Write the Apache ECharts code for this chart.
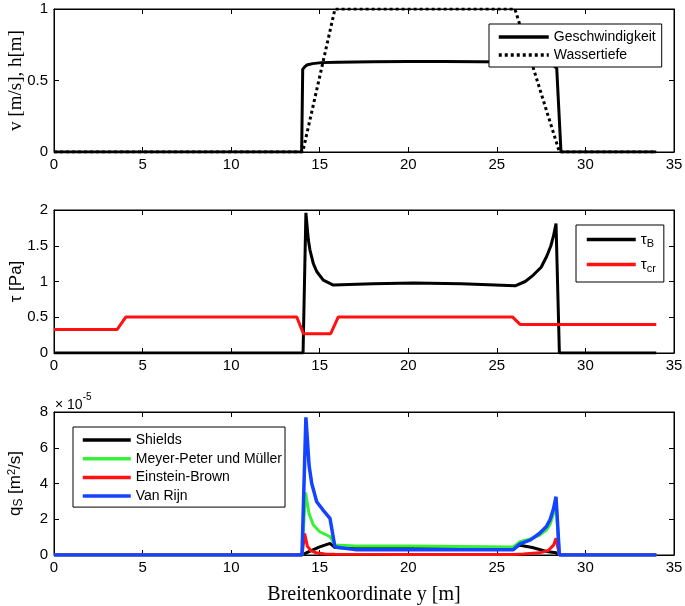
<!DOCTYPE html>
<html><head><meta charset="utf-8">
<script src="https://cdn.jsdelivr.net/npm/echarts@6/dist/echarts.min.js"></script>
<style>html,body{margin:0;padding:0;background:#fff}#c{width:685px;height:606px}</style>
</head><body><div id="c"></div><script>
// ---- data ----
const xTicks = [0, 5, 10, 15, 20, 25, 30, 35];
// Panel 1: velocity and water depth
const vX = [0, 13.98, 14.04, 14.15, 14.27, 14.6, 15.1, 16, 18, 20, 22, 24, 26, 27, 27.8, 28.2, 28.38, 28.62, 34];
const vY = [0, 0, 0.578, 0.595, 0.608, 0.618, 0.625, 0.628, 0.631, 0.632, 0.632, 0.631, 0.629, 0.627, 0.62, 0.605, 0.585, 0, 0];
const hX = [0, 14.04, 15.86, 26.02, 28.53, 34];
const hY = [0, 0, 1, 1, 0, 0];
// Panel 2: shear stress
const tbX = [0, 14.06, 14.22, 14.36, 14.45, 14.64, 14.83, 15.2, 15.77, 18, 20.3, 23, 26.03, 26.6, 27.06, 27.5, 27.81, 28.05, 28.19, 28.34, 28.53, 34];
const tbY = [0, 0, 1.96, 1.58, 1.44, 1.25, 1.14, 1.02, 0.95, 0.97, 0.98, 0.97, 0.94, 1.0, 1.09, 1.2, 1.35, 1.5, 1.63, 1.81, 0, 0];
const tcX = [0, 3.57, 4.06, 13.7, 14.08, 15.62, 16.05, 25.88, 26.31, 34];
const tcY = [0.33, 0.33, 0.505, 0.505, 0.27, 0.27, 0.505, 0.505, 0.40, 0.40];
// Panel 3: sediment transport (units of 1e-5 m^2/s)
const shX = [0, 14.0, 14.3, 15.0, 15.58, 15.86, 17, 20, 23, 25.93, 26.3, 27.0, 27.8, 28.34, 28.53, 34];
const shY = [0, 0, 0.15, 0.45, 0.65, 0.42, 0.38, 0.37, 0.37, 0.38, 0.55, 0.42, 0.2, 0.12, 0, 0];
const mpX = [0, 14.0, 14.2, 14.4, 14.64, 15.0, 15.58, 15.86, 17, 20, 23, 25.93, 26.3, 26.9, 27.4, 27.8, 28.0, 28.2, 28.34, 28.53, 34];
const mpY = [0, 0, 3.5, 2.3, 1.68, 1.3, 1.03, 0.56, 0.5, 0.5, 0.48, 0.45, 0.75, 0.9, 1.1, 1.4, 1.7, 2.3, 3.0, 0, 0];
const ebX = [0, 14.0, 14.15, 14.3, 14.5, 14.8, 15.3, 15.86, 20, 25.93, 26.5, 27.4, 27.9, 28.2, 28.34, 28.53, 34];
const ebY = [0, 0, 1.2, 0.5, 0.25, 0.12, 0.06, 0.04, 0.03, 0.03, 0.05, 0.12, 0.25, 0.55, 0.93, 0, 0];
const vrX = [0, 14.0, 14.22, 14.4, 14.55, 14.83, 15.2, 15.58, 15.86, 17, 20, 23, 25.93, 26.3, 26.9, 27.4, 27.8, 28.0, 28.2, 28.34, 28.53, 34];
const vrY = [0, 0, 7.7, 5.0, 4.0, 2.98, 2.5, 2.05, 0.45, 0.3, 0.3, 0.3, 0.3, 0.62, 0.85, 1.2, 1.6, 1.96, 2.6, 3.26, 0, 0];
const yTicks1 = [0, 0.5, 1];
const yTicks2 = [0, 0.5, 1, 1.5, 2];
const yTicks3 = [0, 2, 4, 6, 8];

const zip = (xs, ys) => xs.map((x, i) => [x, ys[i]]);
const SANS = '"Liberation Sans", Arial, sans-serif';
const SERIF = '"Liberation Serif", "Times New Roman", serif';

const grids = [
  {left: 54, top: 9, width: 620, height: 143},
  {left: 54, top: 210, width: 620, height: 143},
  {left: 54, top: 412, width: 620, height: 143}
].map(g => Object.assign(g, {show: true, borderColor: '#000', borderWidth: 1, backgroundColor: '#fff',
  containLabel: false, outerBoundsMode: 'none'}));

function xAx(i, top) {
  return {
    type: 'value', gridIndex: i, min: xTicks[0], max: xTicks[xTicks.length - 1], interval: xTicks[1] - xTicks[0],
    position: top ? 'top' : 'bottom',
    axisLine: {show: true, onZero: false, lineStyle: {color: '#000', width: 1}},
    axisTick: {show: true, inside: true, length: 5, lineStyle: {color: '#000'}},
    axisLabel: {show: !top, color: '#000', fontFamily: SANS, fontSize: 15, margin: 5},
    splitLine: {show: false}
  };
}
function yAx(i, ticks, right, extra) {
  return Object.assign({
    type: 'value', gridIndex: i, min: ticks[0], max: ticks[ticks.length - 1], interval: ticks[1] - ticks[0],
    position: right ? 'right' : 'left',
    axisLine: {show: true, onZero: false, lineStyle: {color: '#000', width: 1}},
    axisTick: {show: true, inside: true, length: 5, lineStyle: {color: '#000'}},
    axisLabel: {show: !right, color: '#000', fontFamily: SANS, fontSize: 15, margin: 6},
    splitLine: {show: false}
  }, extra || {});
}

const xAxes = [xAx(0), xAx(1), xAx(2), xAx(0, true), xAx(1, true), xAx(2, true)];
Object.assign(xAxes[2], {name: 'Breitenkoordinate y [m]', nameLocation: 'middle', nameGap: 30, nameMoveOverlap: false,
  nameTextStyle: {color: '#000', fontFamily: SERIF, fontSize: 20}});

const yAxes = [
  yAx(0, yTicks1, false, {name: 'v [m/s], h[m]', nameLocation: 'middle', nameGap: 28, nameMoveOverlap: false,
    nameTextStyle: {color: '#000', fontFamily: SERIF, fontSize: 19}}),
  yAx(1, yTicks2, false, {name: 'τ [Pa]', nameLocation: 'middle', nameGap: 29, nameMoveOverlap: false,
    nameTextStyle: {color: '#000', fontFamily: SANS, fontSize: 17}}),
  yAx(2, yTicks3, false, {name: 'q{s|S} [m{p|2}/s]', nameLocation: 'middle', nameGap: 29, nameMoveOverlap: false,
    nameTextStyle: {color: '#000', fontFamily: SANS, fontSize: 17,
      rich: {s: {fontSize: 12, fontFamily: SANS, color: '#000', padding: [6, 0, 0, 0]},
             p: {fontSize: 11, fontFamily: SANS, color: '#000', padding: [0, 0, 8, 0]}}}}),
  yAx(0, yTicks1, true), yAx(1, yTicks2, true), yAx(2, yTicks3, true)
];

function line(name, xi, yi, data, color, width, type) {
  return {name, type: 'line', xAxisIndex: xi, yAxisIndex: yi, data, symbol: 'none', animation: false,
    lineStyle: {color, width, type: type || 'solid'}, itemStyle: {color}, z: 3};
}

const GREEN = '#38f038', RED = '#ff1111', BLUE = '#1444ff';
const series = [
  line('Geschwindigkeit', 0, 0, zip(vX, vY), '#000', 3),
  line('Wassertiefe', 0, 0, zip(hX, hY), '#000', 3, [3, 3]),
  line('tauB', 1, 1, zip(tbX, tbY), '#000', 3),
  line('taucr', 1, 1, zip(tcX, tcY), RED, 3),
  line('Shields', 2, 2, zip(shX, shY), '#000', 3),
  line('Meyer-Peter und Müller', 2, 2, zip(mpX, mpY), GREEN, 3),
  line('Einstein-Brown', 2, 2, zip(ebX, ebY), RED, 3),
  line('Van Rijn', 2, 2, zip(vrX, vrY), BLUE, 3.5)
];

const legBase = {orient: 'vertical', backgroundColor: '#fff', borderColor: '#000', borderWidth: 1, borderRadius: 0,
  itemHeight: 14, selectedMode: false,
  itemStyle: {opacity: 0, borderWidth: 0},
  lineStyle: {width: 3.5},
  textStyle: {color: '#000', fontFamily: SANS, fontSize: 14}};
const legends = [
  Object.assign({}, legBase, {left: 489, top: 24, itemWidth: 50, itemGap: 4, padding: [6, 6, 5, 8],
    data: ['Geschwindigkeit', 'Wassertiefe']}),
  Object.assign({}, legBase, {left: 576, top: 225, itemWidth: 49, itemGap: 8, padding: [7, 8, 8, 9],
    data: ['tauB', 'taucr'],
    formatter: n => n === 'tauB' ? '{a|τ}{b|B}' : '{a|τ}{b|cr}',
    textStyle: {color: '#000', fontFamily: SANS, fontSize: 15,
      rich: {a: {fontSize: 15, fontFamily: SANS, color: '#000'},
             b: {fontSize: 11, fontFamily: SANS, color: '#000', padding: [8, 0, 0, 0]}}}}),
  Object.assign({}, legBase, {left: 73, top: 427, itemWidth: 48, itemGap: 4.7, padding: [6, 3, 4, 8],
    data: ['Shields', 'Meyer-Peter und Müller', 'Einstein-Brown', 'Van Rijn']})
];

const chart = echarts.init(document.getElementById('c'), null, {renderer: 'canvas'});
chart.setOption({
  animation: false,
  backgroundColor: '#fff',
  grid: grids,
  xAxis: xAxes,
  yAxis: yAxes,
  legend: legends,
  series,
  graphic: [{
    type: 'text', left: 55, top: 392, z: 10,
    style: {text: '× 10{p|-5}', fill: '#000', font: '14px ' + SANS,
      rich: {p: {fontSize: 10, fontFamily: SANS, fill: '#000', padding: [0, 0, 16, 0]}}}
  }]
});
</script></body></html>
